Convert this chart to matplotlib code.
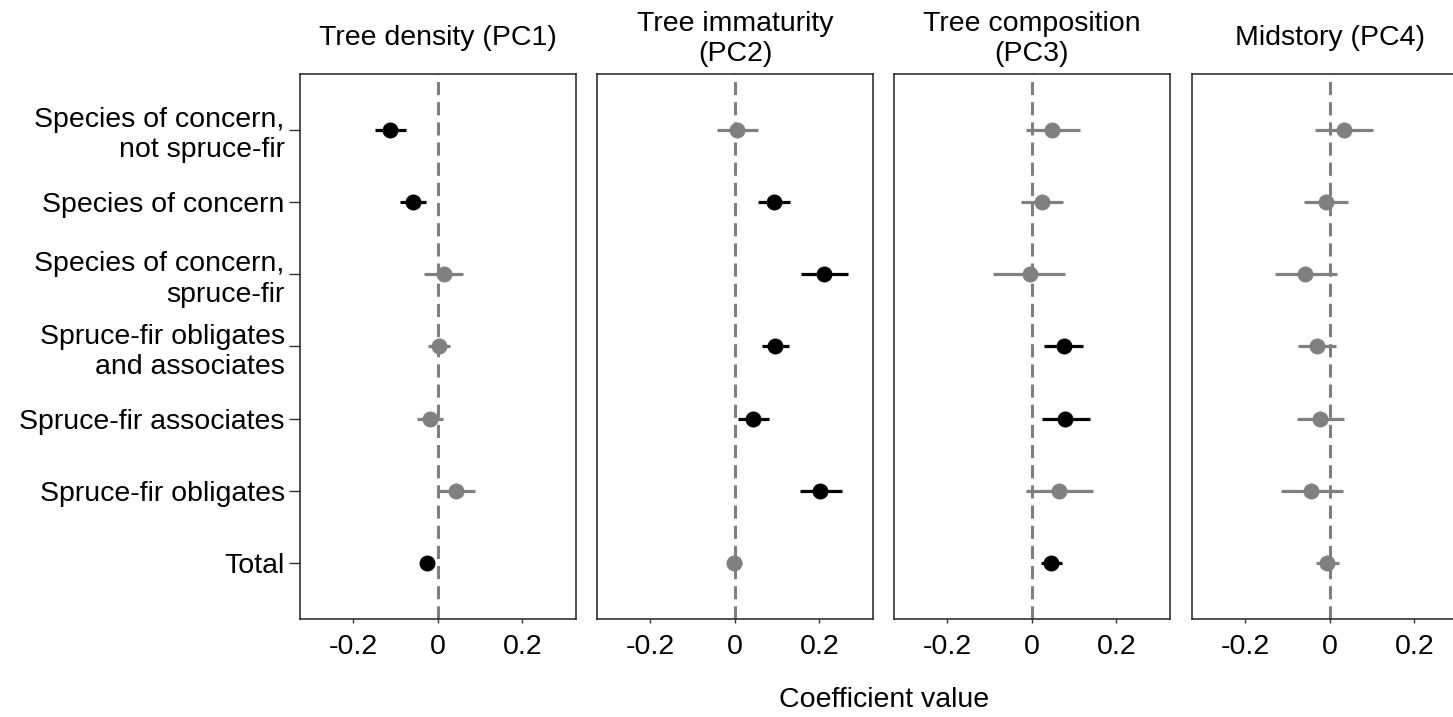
import matplotlib
matplotlib.use('Agg')
import matplotlib.pyplot as plt
import numpy as np

plt.rcParams['font.family'] = ['Liberation Sans', 'DejaVu Sans']

# =============================================================================
# 데이터 (위에서 아래 순서)
# =============================================================================

groups = ['Species of concern,\nnot spruce-fir', 'Species of concern',
          'Species of concern,\nspruce-fir', 'Spruce-fir obligates\nand associates',
          'Spruce-fir associates', 'Spruce-fir obligates', 'Total']

panel_titles = ['Tree density (PC1)', 'Tree immaturity\n(PC2)',
                'Tree composition\n(PC3)', 'Midstory (PC4)']

# PC1
pc1_est = [-0.112, -0.059, 0.016, 0.003, -0.018, 0.044, -0.024]
pc1_low = [-0.149, -0.088, -0.031, -0.022, -0.049, -0.002, -0.039]
pc1_high = [-0.074, -0.028, 0.060, 0.029, 0.013, 0.089, -0.008]

# PC2
pc2_est = [0.006, 0.093, 0.212, 0.096, 0.044, 0.202, -0.001]
pc2_low = [-0.041, 0.056, 0.158, 0.064, 0.008, 0.155, -0.016]
pc2_high = [0.055, 0.130, 0.268, 0.129, 0.081, 0.253, 0.018]

# PC3
pc3_est = [0.049, 0.025, -0.003, 0.076, 0.079, 0.064, 0.045]
pc3_low = [-0.013, -0.024, -0.090, 0.029, 0.024, -0.013, 0.022]
pc3_high = [0.114, 0.074, 0.079, 0.122, 0.137, 0.144, 0.071]

# PC4
pc4_est = [0.035, -0.009, -0.058, -0.029, -0.023, -0.045, -0.005]
pc4_low = [-0.035, -0.060, -0.130, -0.074, -0.078, -0.115, -0.033]
pc4_high = [0.103, 0.043, 0.018, 0.016, 0.033, 0.031, 0.022]

estimates = [pc1_est, pc2_est, pc3_est, pc4_est]
lows = [pc1_low, pc2_low, pc3_low, pc4_low]
highs = [pc1_high, pc2_high, pc3_high, pc4_high]

# =============================================================================
# 그래프
# =============================================================================

W, H = 1453, 717
fig = plt.figure(figsize=(W / 100, H / 100), dpi=100)

panel_left = [300, 597, 894, 1192]
panel_w = 276
top_px, bottom_px = 74, 619
ypos = np.arange(len(groups))[::-1] + 1

for i in range(4):
    ax = fig.add_axes([panel_left[i] / W, (H - bottom_px) / H,
                       panel_w / W, (bottom_px - top_px) / H])
    ax.axvline(0, color='#7f7f7f', linestyle=(0, (4.3, 2.3)), linewidth=2.2, zorder=1)

    est = np.array(estimates[i])
    lo = np.array(lows[i])
    hi = np.array(highs[i])
    for y, e, l, h in zip(ypos, est, lo, hi):
        col = 'black' if (l > 0 or h < 0) else '#808080'
        ax.plot([l, h], [y, y], color=col, linewidth=2.3, solid_capstyle='butt', zorder=2)
        ax.plot(e, y, 'o', color=col, markersize=11.5, markeredgewidth=0, zorder=3)

    ax.set_xlim(-0.325, 0.327)
    ax.set_ylim(0.224, 7.776)
    ax.set_xticks([-0.2, 0, 0.2])
    ax.set_xticklabels(['-0.2', '0', '0.2'], fontsize=20.5)
    ax.tick_params(axis='x', length=3, width=1, color='#333333', pad=8)

    if i == 0:
        ax.set_yticks(ypos)
        ax.set_yticklabels(groups, fontsize=20.5, linespacing=1.22, ha='right')
        ax.tick_params(axis='y', length=8, width=1, color='#333333', pad=3)
    else:
        ax.set_yticks([])

    for s in ax.spines.values():
        s.set_color('#222222')
        s.set_linewidth(1.1)

    cx = (panel_left[i] + panel_w / 2) / W
    fig.text(cx, 1 - 38 / H if '\n' not in panel_titles[i] else 1 - 39 / H,
             panel_titles[i], ha='center', va='center',
             fontsize=20.5, linespacing=1.22)

fig.text((300 + 1468) / 2 / W, 1 - 700 / H, 'Coefficient value',
         ha='center', va='center', fontsize=20.5)

plt.savefig('out.png', dpi=100)
plt.close()
